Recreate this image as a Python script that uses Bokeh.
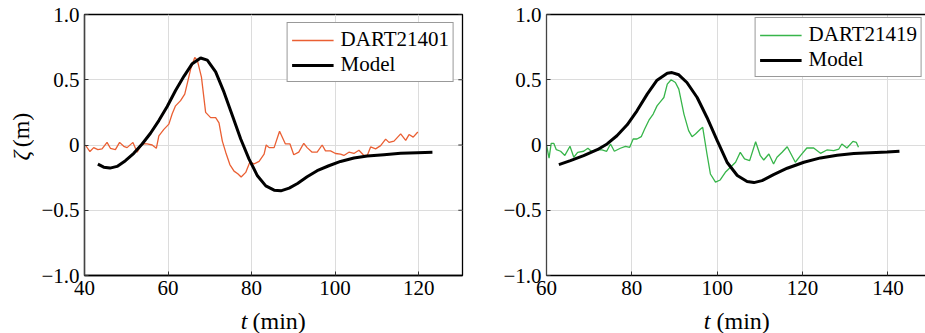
import math
from bokeh.plotting import figure
from bokeh.layouts import row, column
from bokeh.models import (Range1d, LinearAxis, FixedTicker, Legend, LegendItem, Label)
from bokeh.embed import file_html
from bokeh.resources import INLINE

# ---------------- data ----------------
dart1_t = [40.2, 41.3, 42.2, 43.2, 44.2, 45.4, 46.2, 47.4, 48.4, 49.4, 50.2, 51.6, 52.6, 53.8,
           55.0, 56.2, 57.2, 57.8, 59.0, 60.2, 61.0, 61.8, 63.0, 64.0, 64.6, 65.4, 66.4, 67.0,
           68.0, 69.0, 70.2, 71.4, 72.2, 73.0, 73.8, 74.8, 75.8, 76.7, 77.5, 78.6, 79.6, 80.6,
           81.8, 83.0, 83.5, 84.2, 85.4, 86.7, 88.1, 89.2, 90.1, 91.3, 92.5, 93.3, 94.5, 95.7,
           96.9, 97.7, 98.9, 100.1, 101.3, 102.1, 103.3, 104.5, 105.7, 106.9, 107.7, 108.5,
           109.7, 110.9, 112.1, 112.9, 114.1, 115.7, 116.9, 117.7, 118.7, 119.8]
dart1_z = [0.0, -0.05, -0.02, -0.035, -0.03, 0.02, -0.025, -0.035, 0.02, -0.01, -0.02, 0.02,
           -0.055, 0.01, 0.008, 0.0, -0.025, 0.07, 0.12, 0.16, 0.24, 0.30, 0.34, 0.39, 0.47,
           0.58, 0.67, 0.65, 0.52, 0.25, 0.21, 0.21, 0.17, 0.03, -0.055, -0.15, -0.2, -0.22,
           -0.245, -0.21, -0.13, -0.145, -0.125, -0.07, 0.0, -0.02, -0.02, 0.105, 0.008, 0.008,
           -0.075, -0.055, 0.013, -0.02, -0.055, -0.055, 0.0, -0.045, -0.045, -0.065, -0.07,
           -0.08, -0.055, -0.065, -0.04, -0.08, -0.08, -0.015, -0.03, -0.005, 0.045, 0.02, 0.03,
           0.085, 0.035, 0.08, 0.06, 0.1]
model1_t = [43.2, 44.6, 46.1, 47.8, 49.8, 51.8, 53.8, 55.8, 57.8, 59.8, 61.8, 63.8, 65.8, 67.8,
            69.4, 71.4, 73.4, 75.4, 77.4, 79.4, 81.4, 83.4, 85.4, 87.0, 89.0, 91.0, 93.3, 95.7,
            98.5, 101.3, 104.5, 107.7, 111.7, 115.7, 119.7, 123.3]
model1_z = [-0.146, -0.17, -0.177, -0.164, -0.12, -0.064, 0.008, 0.09, 0.187, 0.295, 0.418,
            0.526, 0.623, 0.667, 0.65, 0.56, 0.405, 0.226, 0.046, -0.108, -0.236, -0.313,
            -0.346, -0.351, -0.33, -0.295, -0.244, -0.197, -0.159, -0.126, -0.1, -0.085,
            -0.074, -0.064, -0.059, -0.056]

dart2_t = [60.0, 60.6, 61.1, 61.7, 62.3, 63.3, 64.3, 65.5, 66.4, 67.3, 68.7, 69.7, 70.5, 71.9,
           73.0, 74.1, 75.0, 75.9, 77.3, 78.5, 79.5, 80.3, 81.2, 82.2, 83.0, 84.0, 85.0, 85.9,
           86.9, 87.5, 88.3, 89.2, 90.2, 91.0, 92.2, 93.3, 94.1, 94.9, 96.1, 96.6, 97.6, 98.4,
           99.6, 100.7, 101.9, 103.1, 104.3, 105.4, 106.4, 107.6, 109.0, 110.1, 110.9, 112.1,
           113.2, 114.0, 115.2, 116.4, 118.3, 119.5, 121.0, 122.6, 124.2, 125.7, 127.3, 128.5,
           129.2, 130.4, 131.8, 132.6, 133.1]
dart2_z = [0.0, -0.1, 0.013, 0.013, -0.036, -0.048, -0.08, -0.01, -0.094, -0.056, -0.048,
           -0.025, -0.048, -0.036, -0.038, -0.048, 0.008, -0.048, -0.025, -0.01, -0.018, 0.046,
           0.046, 0.064, 0.122, 0.19, 0.237, 0.3, 0.34, 0.364, 0.466, 0.5, 0.479, 0.428, 0.237,
           0.11, 0.064, 0.084, 0.122, 0.135, -0.069, -0.222, -0.285, -0.268, -0.209, -0.171,
           -0.132, -0.056, -0.107, -0.12, 0.025, -0.082, -0.115, -0.069, -0.145, -0.094,
           -0.056, -0.013, -0.132, -0.082, -0.023, -0.023, -0.064, -0.038, -0.043, -0.031,
           0.008, -0.023, 0.028, 0.02, -0.018]
model2_t = [62.9, 65.6, 68.7, 71.9, 74.2, 76.5, 78.9, 81.2, 83.6, 85.9, 88.3, 89.4, 91.0, 92.9,
            95.3, 97.6, 100.0, 102.3, 104.7, 107.0, 108.6, 110.5, 113.2, 116.4, 120.3, 124.2,
            128.1, 132.0, 135.9, 139.8, 142.7]
model2_z = [-0.15, -0.12, -0.082, -0.036, 0.008, 0.071, 0.155, 0.262, 0.39, 0.497, 0.55, 0.555,
            0.538, 0.479, 0.364, 0.211, 0.033, -0.132, -0.234, -0.28, -0.288, -0.273, -0.227,
            -0.178, -0.132, -0.099, -0.079, -0.066, -0.059, -0.054, -0.048]

x1_ticks = [40, 60, 80, 100, 120]
x2_ticks = [60, 80, 100, 120, 140]
y_ticks = [-1.0, -0.5, 0.0, 0.5, 1.0]
y_tick_labels = ["\u22121.0", "\u22120.5", "0", "0.5", "1.0"]
labels1 = ["DART21401", "Model"]
labels2 = ["DART21419", "Model"]
x_label_var, x_label_unit = "t", "(min)"
y_label_var, y_label_unit = "\u03b6", "(m)"

FONT = "Liberation Serif"
ORANGE = "#ea5f33"
GREEN = "#37b54a"
GRID = "#dcdcdc"
MAIN_H = 305


def make_panel(width, left_border, right_border, xr, xticks, dt, dz, mt, mz, color,
               labels, full_box, legend_margin):
    p = figure(width=width, height=MAIN_H, output_backend="svg", toolbar_location=None,
               x_range=Range1d(*xr), y_range=Range1d(-1.0, 1.0),
               min_border_left=left_border, min_border_right=right_border,
               min_border_top=14, min_border_bottom=30)
    p.background_fill_color = "white"
    p.border_fill_color = "white"
    if full_box:
        p.outline_line_color = "black"
        p.outline_line_width = 1.3
    else:
        p.outline_line_color = None

    p.xaxis.ticker = FixedTicker(ticks=xticks)
    p.yaxis.ticker = FixedTicker(ticks=y_ticks)
    p.yaxis.major_label_overrides = {v: s for v, s in zip(y_ticks, y_tick_labels)}
    for ax in (p.xaxis[0], p.yaxis[0]):
        ax.major_label_text_font = FONT
        ax.major_label_text_font_size = "21px"
        ax.major_label_text_color = "black"
        ax.major_tick_in = 4
        ax.major_tick_out = 0
        ax.minor_tick_in = 0
        ax.minor_tick_out = 0
        ax.axis_line_color = "black"
        ax.axis_line_width = 1.3
        ax.major_tick_line_color = "#333333"
        ax.major_label_standoff = 5
    p.yaxis.axis_line_color = "#444444"

    if not full_box:
        top = LinearAxis(ticker=FixedTicker(ticks=[]), major_tick_in=0, major_tick_out=0,
                         minor_tick_in=0, minor_tick_out=0, major_label_standoff=0,
                         axis_line_color="black", axis_line_width=1.3)
        p.add_layout(top, "above")
    else:
        xe = xr[1]
        p.segment(x0=[xe] * len(y_ticks), x1=[xe - 1.0] * len(y_ticks), y0=y_ticks, y1=y_ticks,
                  line_color="#333333", line_width=1)

    p.xgrid.grid_line_color = GRID
    p.ygrid.grid_line_color = GRID

    r1 = p.line(dt, dz, line_color=color, line_width=1.3)
    r2 = p.line(mt, mz, line_color="black", line_width=3)

    legend = Legend(items=[LegendItem(label=labels[0], renderers=[r1]),
                           LegendItem(label=labels[1], renderers=[r2])],
                    location="top_right", margin=legend_margin, padding=4, spacing=0,
                    label_text_font=FONT, label_text_font_size="21px",
                    label_text_color="black",
                    label_height=20, glyph_height=20, glyph_width=42, label_standoff=7,
                    border_line_color="#333333", border_line_width=1.5,
                    background_fill_color="white", background_fill_alpha=1.0)
    p.add_layout(legend, "center")
    return p


def blank(width, height):
    q = figure(width=width, height=height, output_backend="svg", toolbar_location=None,
               x_axis_type=None, y_axis_type=None,
               x_range=Range1d(0, width), y_range=Range1d(0, height),
               min_border=0, min_border_left=0, min_border_right=0,
               min_border_top=0, min_border_bottom=0)
    q.outline_line_color = None
    q.xgrid.visible = False
    q.ygrid.visible = False
    q.background_fill_color = "white"
    q.border_fill_color = "white"
    return q


# y-axis label strip (left of panel 1)
YS_W = 34
ys = blank(YS_W, MAIN_H)
ys.add_layout(Label(x=20, y=MAIN_H - 165, text=y_label_var, text_font=FONT,
                    text_font_size="24px", text_font_style="italic", angle=math.pi / 2,
                    text_align="center", text_baseline="middle", text_color="black"))
ys.add_layout(Label(x=20, y=MAIN_H - 135, text=y_label_unit, text_font=FONT,
                    text_font_size="24px", angle=math.pi / 2,
                    text_align="center", text_baseline="middle", text_color="black"))

p1 = make_panel(470 - YS_W, 84 - YS_W, 8, (40, 130.5), x1_ticks, dart1_t, dart1_z,
                model1_t, model1_z, ORANGE, labels1, True, 8)
p2 = make_panel(455, 76, 0, (60, 148.8), x2_ticks, dart2_t, dart2_z, model2_t, model2_z,
                GREEN, labels2, False, 3)

# x-axis label strip (below both panels)
XS_H = 333 - MAIN_H
xs = blank(925, XS_H)
for tx, ux in ((247, 252), (710, 716)):
    xs.add_layout(Label(x=tx, y=XS_H - 15, text=x_label_var, text_font=FONT,
                        text_font_size="24px", text_font_style="italic", text_align="right",
                        text_baseline="middle", text_color="black"))
    xs.add_layout(Label(x=ux, y=XS_H - 15, text=x_label_unit, text_font=FONT,
                        text_font_size="24px", text_align="left",
                        text_baseline="middle", text_color="black"))

layout = column(row(ys, p1, p2), xs)
open("out.html", "w").write(file_html(layout, INLINE))
